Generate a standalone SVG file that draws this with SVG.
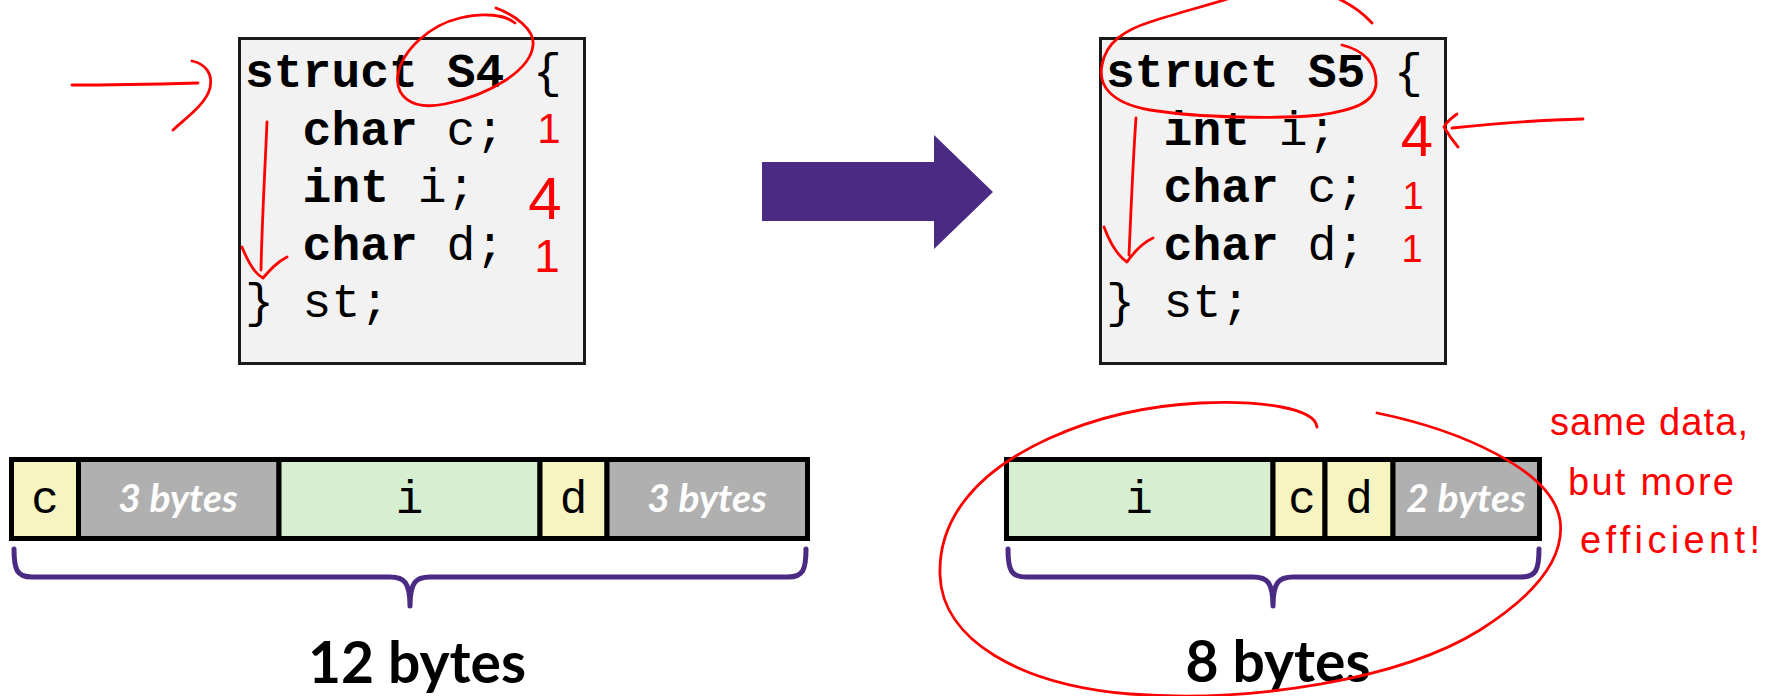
<svg xmlns="http://www.w3.org/2000/svg" width="1775" height="696" viewBox="0 0 1775 696">
  <style>
    .codebox { fill: #f2f2f2; stroke: #1a1a1a; stroke-width: 3; }
    .code { font-family: "Liberation Mono", "DejaVu Sans Mono", monospace; font-size: 48px; fill: #000; }
    .kw { font-weight: bold; }
    .cell { stroke: #000; stroke-width: 5; }
    .byte { fill: #f6f4c1; }
    .int { fill: #d6efd1; }
    .pad { fill: #b0b0b0; }
    .cellvar { font-family: "Liberation Mono", "DejaVu Sans Mono", monospace; font-size: 46px; fill: #000; text-anchor: middle; }
    .padlbl { font-family: Lato, "Open Sans", sans-serif; font-weight: bold; font-style: italic; font-size: 39px; fill: #fff; text-anchor: middle; }
    .total { font-family: Lato, "Open Sans", sans-serif; font-weight: bold; font-size: 57px; fill: #000; text-anchor: middle; }
    .brace { fill: none; stroke: #4b2a84; stroke-width: 5; stroke-linecap: round; stroke-linejoin: round; }
    .ink { fill: none; stroke: #ff0000; stroke-width: 2.8; stroke-linecap: round; stroke-linejoin: round; }
    .inktext { font-family: "Liberation Sans Narrow", "Liberation Sans", sans-serif; fill: #ff0000; }
  </style>

  <!-- struct S4 declaration -->
  <g id="s4-code">
    <rect class="codebox" x="239.5" y="38.5" width="345" height="325"/>
    <text class="code" xml:space="preserve">
      <tspan x="245" y="87"><tspan class="kw">struct S4</tspan> {</tspan>
      <tspan x="302.6" y="144.5"><tspan class="kw">char</tspan> c;</tspan>
      <tspan x="302.6" y="202"><tspan class="kw">int</tspan> i;</tspan>
      <tspan x="302.6" y="259.5"><tspan class="kw">char</tspan> d;</tspan>
      <tspan x="245" y="317">} st;</tspan>
    </text>
  </g>

  <!-- struct S5 declaration -->
  <g id="s5-code">
    <rect class="codebox" x="1100.5" y="38.5" width="345" height="325"/>
    <text class="code" xml:space="preserve">
      <tspan x="1106" y="87"><tspan class="kw">struct S5</tspan> {</tspan>
      <tspan x="1163.6" y="144.5"><tspan class="kw">int</tspan> i;</tspan>
      <tspan x="1163.6" y="202"><tspan class="kw">char</tspan> c;</tspan>
      <tspan x="1163.6" y="259.5"><tspan class="kw">char</tspan> d;</tspan>
      <tspan x="1106" y="317">} st;</tspan>
    </text>
  </g>

  <!-- transformation arrow between the two declarations -->
  <g id="connectors">
    <polygon points="762,162 934,162 934,135 993,192 934,249 934,221 762,221" fill="#4b2a84"/>
  </g>

  <!-- memory layout of S4: 12 bytes -->
  <g id="s4-layout">
    <rect class="cell byte" x="11.5" y="459.5" width="67" height="79"/>
    <rect class="cell pad" x="78.5" y="459.5" width="200.5" height="79"/>
    <rect class="cell int" x="279" y="459.5" width="261" height="79"/>
    <rect class="cell byte" x="540" y="459.5" width="67" height="79"/>
    <rect class="cell pad" x="607" y="459.5" width="200.5" height="79"/>
    <text class="cellvar" x="45" y="513">c</text>
    <text class="padlbl" x="178" y="512">3 bytes</text>
    <text class="cellvar" x="409.5" y="513">i</text>
    <text class="cellvar" x="573.5" y="513">d</text>
    <text class="padlbl" x="707" y="512">3 bytes</text>
    <path class="brace" d="M14,549 C14,570 17,577 32,577 L390,577 C404,577 410,582 410,606 M806,549 C806,570 803,577 788,577 L430,577 C416,577 410,582 410,606"/>
    <text class="total" x="417" y="683">12 bytes</text>
  </g>

  <!-- memory layout of S5: 8 bytes -->
  <g id="s5-layout">
    <rect class="cell int" x="1006.5" y="459.5" width="266.5" height="79"/>
    <rect class="cell byte" x="1273" y="459.5" width="52" height="79"/>
    <rect class="cell byte" x="1325" y="459.5" width="68" height="79"/>
    <rect class="cell pad" x="1393" y="459.5" width="146.5" height="79"/>
    <text class="cellvar" x="1139" y="513">i</text>
    <text class="cellvar" x="1302" y="513">c</text>
    <text class="cellvar" x="1359" y="513">d</text>
    <text class="padlbl" x="1466" y="512">2 bytes</text>
    <path class="brace" d="M1008,549 C1008,570 1011,577 1026,577 L1253,577 C1267,577 1273,582 1273,606 M1539,549 C1539,570 1536,577 1521,577 L1293,577 C1279,577 1273,582 1273,606"/>
    <text class="total" x="1278" y="682">8 bytes</text>
  </g>

  <!-- handwritten annotations -->
  <g id="annotations">
    <!-- pointer to struct S4 -->
    <path class="ink" d="M72,85 C110,85 160,84 198,83 M192,61 C206,64 213,74 210,88 C206,104 186,118 173,130"/>
    <!-- circle round S4 -->
    <path class="ink" d="M496,8 C515,15 535,30 533,45 C531,70 490,95 445,104 C410,111 395,95 398,75 C402,50 430,25 460,18 C485,12 505,15 515,23"/>
    <!-- member order, S4 -->
    <path class="ink" d="M267,122 C265,170 262,220 261,270 M242,247 C248,262 255,274 263,278 C270,270 277,262 287,257"/>
    <text class="inktext" x="549" y="143" font-size="42" text-anchor="middle">1</text>
    <text class="inktext" x="545" y="219" font-size="60" text-anchor="middle">4</text>
    <text class="inktext" x="547" y="272" font-size="46" text-anchor="middle">1</text>

    <!-- loop round struct S5 -->
    <path class="ink" d="M1342,45 C1362,50 1377,62 1376,85 C1374,102 1355,110 1320,115 C1280,119 1200,118 1150,110 C1110,103 1098,85 1102,65 C1106,42 1125,30 1150,22 C1180,12 1210,5 1240,-5 C1270,-14 1305,-15 1330,-5 C1350,3 1362,12 1372,23"/>
    <!-- member order, S5 -->
    <path class="ink" d="M1136,118 C1133,160 1131,210 1129,255 M1104,227 C1110,243 1118,256 1127,262 C1134,252 1142,243 1153,238"/>
    <text class="inktext" x="1417" y="156" font-size="58" text-anchor="middle">4</text>
    <text class="inktext" x="1413" y="209" font-size="38" text-anchor="middle">1</text>
    <text class="inktext" x="1412" y="262" font-size="38" text-anchor="middle">1</text>
    <!-- pointer to the int member -->
    <path class="ink" d="M1583,119 C1540,120 1490,124 1452,128 M1457,114 C1450,119 1446,123 1444,127 C1448,134 1453,141 1458,147"/>

    <!-- loop round the S5 layout -->
    <path class="ink" d="M1317,427 C1315,408 1260,400 1200,403 C1140,406 1090,420 1050,438 C975,472 938,520 940,575 C942,640 1020,685 1130,694 C1250,703 1400,680 1480,630 C1540,592 1565,555 1560,520 C1552,470 1460,430 1377,413"/>
    <text class="inktext" x="1550" y="435" font-size="38" textLength="198" lengthAdjust="spacing">same data,</text>
    <text class="inktext" x="1568" y="495" font-size="38" textLength="166" lengthAdjust="spacing">but more</text>
    <text class="inktext" x="1580" y="553" font-size="38" textLength="180" lengthAdjust="spacing">efficient!</text>
  </g>
</svg>
